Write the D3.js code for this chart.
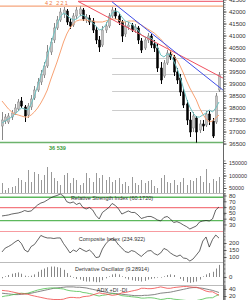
<!DOCTYPE html>
<html>
<head>
<meta charset="utf-8">
<script src="https://cdn.jsdelivr.net/npm/d3@7"></script>
<style>
  body { margin: 0; background: #fff; }
  svg { display: block; font-family: "Liberation Sans", Arial, sans-serif; }
</style>
</head>
<body>
<svg id="chart" width="248" height="300"></svg>
<script>
// ---- data ----
const opens = [37231, 37440, 37398, 37606, 37773, 37940, 38273, 38023, 37690, 38023, 38398, 38731, 39064, 39356, 39731, 40314, 40814, 41314, 41647, 41897,
  42022, 41564, 41439, 41814, 41897, 42063, 41689, 41730, 41605, 41230, 40814, 40605, 41230, 41397, 41814, 42022, 41814, 41564, 41064, 41355,
  41439, 41230, 41314, 40772, 40480, 40814, 40980, 40647, 40480, 39647, 39314, 39856, 40231, 40106, 39481, 39231, 38648, 38148, 37481, 37148,
  37565, 37065, 37315, 37273, 37731, 37440, 37398, 38731]
const highs = [37815, 37731, 37773, 37898, 38148, 38356, 38439, 38106, 38190, 38523, 38898, 39231, 39564, 39898, 40605, 40897, 41522, 41814, 42147, 42188,
  42105, 41730, 41938, 42188, 42221, 42147, 41897, 41855, 41730, 41355, 40980, 41397, 41564, 41938, 42188, 42147, 41938, 41647, 41564, 41564,
  41522, 41480, 41397, 40897, 40939, 41105, 41064, 40814, 40647, 39898, 39981, 40397, 40397, 40190, 39647, 39398, 38814, 38314, 37815, 37815,
  37648, 37481, 37481, 37856, 37856, 37565, 38606, 39481]
const lows = [36648, 37315, 37315, 37481, 37690, 37856, 37981, 37398, 37565, 37898, 38314, 38648, 38939, 39231, 39647, 40190, 40688, 41230, 41564, 41730,
  41439, 41272, 41355, 41689, 41814, 41605, 41522, 41439, 41105, 40647, 40314, 40522, 41105, 41314, 41730, 41689, 41439, 40730, 40939, 41230,
  41147, 41105, 40647, 40272, 40397, 40688, 40480, 40314, 39481, 38981, 39231, 39772, 39981, 39314, 38981, 38481, 37981, 37273, 36773, 36981,
  36539, 36940, 37023, 37190, 37273, 36732, 37315, 38648]
const closes = [37481, 37606, 37648, 37773, 37981, 38231, 38065, 37648, 38065, 38356, 38731, 39064, 39398, 39731, 40314, 40730, 41314, 41647, 41980, 42063,
  41564, 41397, 41814, 42063, 42105, 41689, 41772, 41564, 41230, 40814, 40522, 41230, 41397, 41814, 42063, 41814, 41564, 40980, 41397, 41439,
  41230, 41355, 40814, 40397, 40814, 40980, 40605, 40480, 39647, 39148, 39856, 40272, 40106, 39481, 39148, 38648, 38106, 37481, 36981, 37648,
  36981, 37315, 37231, 37731, 37481, 36815, 38481, 39356]
const maShort = [37356, 37440, 37523, 37606, 37731, 37856, 37981, 37940, 37898, 38148, 38481, 38898, 39314, 39731, 40147, 40605, 41064, 41480, 41772, 41938,
  41855, 41730, 41647, 41689, 41814, 41855, 41772, 41647, 41522, 41397, 41230, 41272, 41439, 41689, 41938, 42022, 41980, 41772, 41605, 41564,
  41480, 41355, 41230, 41022, 40939, 40897, 40897, 40772, 40522, 40190, 40106, 40231, 40190, 39940, 39647, 39273, 38814, 38356, 38023, 37773,
  37606, 37606, 37690, 37773, 37898, 37815, 37981, 38231]
const maLong = [38273, 38106, 37940, 37815, 37731, 37690, 37648, 37606, 37606, 37690, 37815, 37981, 38190, 38439, 38731, 39148, 39523, 39898, 40314, 40730,
  41064, 41314, 41480, 41605, 41647, 41647, 41647, 41605, 41605, 41564, 41564, 41564, 41605, 41647, 41689, 41689, 41647, 41564, 41564, 41605,
  41605, 41605, 41522, 41439, 41355, 41272, 41189, 41105, 40980, 40855, 40688, 40522, 40356, 40147, 39981, 39731, 39439, 39106, 38814, 38564,
  38314, 37981, 37731, 37523, 37398, 37440, 37565, 37690]
const volumes = [70000, 42000, 50000, 54000, 58000, 90000, 82000, 74000, 122000, 74000, 114000, 106000, 82000, 102000, 134000, 114000, 90000, 78000, 62000, 102000,
  110000, 70000, 90000, 82000, 62000, 70000, 110000, 90000, 74000, 110000, 90000, 102000, 82000, 94000, 74000, 82000, 90000, 66000, 74000, 58000,
  94000, 70000, 62000, 82000, 70000, 78000, 82000, 58000, 50000, 90000, 102000, 74000, 70000, 82000, 62000, 74000, 90000, 62000, 82000, 78000,
  90000, 98000, 74000, 126000, 70000, 86000, 78000, 94000]
const rsi = [44.7, 45.5, 46.4, 48, 49, 49.8, 51.5, 54, 52.4, 53.3, 58.4, 63.6, 67, 68.8, 72.2, 75.7, 78.3, 80, 82.6, 79,
  69.3, 67, 68.8, 64.5, 67, 59.3, 56.7, 59.3, 55, 45.5, 39.5, 50.7, 55, 59.3, 66.2, 62.8, 56.7, 48, 50.7, 53.3,
  50.7, 50.7, 46.4, 40.3, 42.1, 43.8, 43.8, 41.2, 37.8, 36, 42.1, 43.8, 39.5, 33.4, 34.8, 32.6, 29.1, 26.2, 22.2, 24.8,
  27.4, 34.3, 36, 36.9, 36, 39.5, 55, 60.172]
const composite = [136, 164, 175, 189, 207, 221, 196, 150, 136, 175, 189, 221, 254, 243, 236, 236, 232, 236, 236, 196,
  164, 129, 150, 139, 164, 150, 139, 150, 129, 96, 100, 157, 193, 218, 232, 218, 186, 164, 139, 132,
  146, 139, 121, 104, 125, 143, 146, 125, 114, 129, 161, 150, 129, 114, 104, 114, 93, 89, 71, 86,
  114, 143, 214, 243, 171, 225, 257, 234.922]
const derivOsc = [-1, 0.5, 1.5, 2.5, 3, 3.5, 2.5, 1, 0.5, 1, 2, 4, 5.5, 6.5, 7.5, 8, 8, 7.5, 7, 5.5,
  3, 1, -0.5, -1.5, -2, -3, -3.5, -3.5, -3.5, -4, -4, -2.5, -1, 0.5, 2, 2.5, 2, 0.5, -1, -2,
  -2.5, -3, -3, -3.5, -3, -2, -1.5, -1, -0.5, -0.5, 0.5, 1.5, 2, 1.5, 0, -1.5, -3, -4, -4.5, -4,
  -3.5, -2, 0.5, 2, 3, 4, 6.5, 9.28914]
const adx = [28, 27, 26, 25, 24, 24, 25, 26, 27, 28, 30, 32, 34, 36, 38, 40, 42, 43, 44, 45,
  46, 46, 46, 45, 45, 44, 43, 41, 39, 37, 35, 33, 31, 29, 28, 27, 26, 25, 24, 23,
  22, 21, 21, 21, 22, 22, 23, 24, 26, 28, 29, 30, 31, 33, 35, 37, 39, 41, 43, 44,
  44, 43, 42, 40, 38, 36, 33, 30]
const plusDI = [18, 20, 21, 23, 25, 27, 28, 27, 28, 31, 34, 37, 39, 41, 42, 43, 43, 42, 41, 40,
  37, 35, 34, 33, 33, 30, 29, 27, 25, 22, 20, 22, 23, 25, 27, 26, 24, 21, 20, 19,
  18, 17, 16, 14, 14, 15, 15, 14, 12, 10, 11, 13, 13, 11, 10, 9, 8, 7, 6, 7,
  7, 9, 11, 14, 15, 15, 20, 24]
const minusDI = [36, 35, 34, 32, 30, 28, 26, 26, 25, 22, 20, 18, 16, 14, 12, 11, 10, 10, 10, 11,
  14, 16, 16, 15, 15, 18, 19, 20, 23, 26, 29, 27, 26, 24, 22, 23, 25, 29, 30, 32,
  34, 36, 38, 42, 42, 41, 41, 42, 44, 46, 44, 42, 42, 44, 45, 46, 47, 47, 46, 45,
  45, 42, 38, 34, 32, 32, 27, 22]

const priceTicks = [36500, 37000, 37500, 38000, 38500, 39000, 39500, 40000, 40500, 41000, 41500, 42000, 42500]
const volumeTicks = [50000, 100000, 150000]
const rsiTicks = [30, 40, 50, 60, 70, 80]
const compositeTicks = [100, 150, 200]
const derivTicks = [0]
const adxTicks = [20, 40]

const periodHigh = 42221
const periodLow = 36539
const fibLevels = [0.236, 0.382, 0.5, 0.618]
const resistance = { from: 23.5, value: 42420 }
const trendRed = [[23.5, 42420], [68.2, 39230]]
const trendBlue = [[34, 42400], [68.2, 38730]]
const rsiLines = [{ v: 77, c: '#5cb85c' }, { v: 59.2, c: '#f47a80' }, { v: 36.5, c: '#5cb85c' }, { v: 17.2, c: '#f47a80' }]

// ---- layout ----
const svg = d3.select('#chart')
const right = 223
const N = closes.length
const x = d3.scaleLinear().domain([0, N - 1]).range([2, 219])

const panels = {
  price: { top: 0, bottom: 145, y: d3.scaleLinear().domain([36440, 42480]).range([145, 0]) },
  volume: { top: 145, bottom: 193, y: d3.scaleLinear().domain([30000, 170000]).range([193, 158]) },
  rsi: { top: 193, bottom: 232, y: d3.scaleLinear().domain([17, 84.3]).range([232, 193]) },
  comp: { top: 232, bottom: 262, y: d3.scaleLinear().domain([64.3, 278.6]).range([262, 232]) },
  deriv: { top: 262, bottom: 285, y: d3.scaleLinear().domain([-6.15, 11.5]).range([285, 262]) },
  adx: { top: 285, bottom: 300, y: d3.scaleLinear().domain([8.6, 51.4]).range([300, 285]) }
}

const defs = svg.append('defs')
Object.entries(panels).forEach(([k, p]) => {
  defs.append('clipPath').attr('id', 'clip-' + k)
    .append('rect').attr('x', 0).attr('y', p.top).attr('width', right).attr('height', p.bottom - p.top)
})

function panelGroup (k) {
  return svg.append('g').attr('clip-path', `url(#clip-${k})`)
}

// separators
;[193, 262, 285].forEach(v => {
  svg.append('line').attr('x1', 0).attr('x2', right).attr('y1', v + 0.5).attr('y2', v + 0.5)
    .attr('stroke', '#bbb').attr('stroke-width', 1)
})

// ---- price panel ----
const yP = panels.price.y
const gP = panelGroup('price')

// fibonacci retracement lines
fibLevels.forEach(f => {
  const v = periodLow + (periodHigh - periodLow) * f
  gP.append('line').attr('x1', x(34)).attr('x2', right)
    .attr('y1', Math.round(yP(v)) + 0.5).attr('y2', Math.round(yP(v)) + 0.5)
    .attr('stroke', '#ccc').attr('stroke-width', 1)
})
gP.append('line').attr('x1', 0).attr('x2', right)
  .attr('y1', yP(periodHigh)).attr('y2', yP(periodHigh))
  .attr('stroke', '#f6a57c').attr('stroke-width', 1.2)
gP.append('line').attr('x1', x(resistance.from)).attr('x2', right)
  .attr('y1', yP(resistance.value)).attr('y2', yP(resistance.value))
  .attr('stroke', '#f07080').attr('stroke-width', 1.2)
gP.append('line').attr('x1', 0).attr('x2', right)
  .attr('y1', yP(periodLow)).attr('y2', yP(periodLow))
  .attr('stroke', '#6db36d').attr('stroke-width', 1.5)

// candles
const candles = gP.append('g').selectAll('g').data(d3.range(N)).join('g')
candles.append('line')
  .attr('x1', i => Math.round(x(i)) + 0.5).attr('x2', i => Math.round(x(i)) + 0.5)
  .attr('y1', i => yP(highs[i])).attr('y2', i => yP(lows[i]))
  .attr('stroke', i => closes[i] >= opens[i] ? '#888' : '#000').attr('stroke-width', 1)
candles.append('rect')
  .attr('x', i => Math.round(x(i)) - 0.5)
  .attr('width', 2)
  .attr('y', i => yP(Math.max(opens[i], closes[i])))
  .attr('height', i => Math.max(1, Math.abs(yP(opens[i]) - yP(closes[i]))))
  .attr('fill', i => closes[i] >= opens[i] ? '#c4c4c4' : '#000')
  .attr('stroke', i => closes[i] >= opens[i] ? '#888' : '#000')
  .attr('stroke-width', 0.5)

const line = (arr, sc) => d3.line().x((d, i) => x(i)).y(d => sc(d))(arr)
gP.append('path').attr('d', line(maLong, yP)).attr('fill', 'none').attr('stroke', '#f8a274').attr('stroke-width', 1)
gP.append('path').attr('d', line(maShort, yP)).attr('fill', 'none').attr('stroke', '#6ec3c3').attr('stroke-width', 1)

const tl = d3.line().x(d => x(d[0])).y(d => yP(d[1]))
gP.append('path').attr('d', tl(trendRed)).attr('fill', 'none').attr('stroke', '#f05060').attr('stroke-width', 1)
gP.append('path').attr('d', tl(trendBlue)).attr('fill', 'none').attr('stroke', '#3f4ee8').attr('stroke-width', 1)

svg.append('text').attr('x', 45).attr('y', 4.5).attr('font-size', 5.5).attr('fill', '#ef7a3e')
  .attr('letter-spacing', 1.2).text('42 221')
svg.append('text').attr('x', 49).attr('y', 150).attr('font-size', 5.5).attr('font-weight', 'bold').attr('fill', '#3c9c3c')
  .text('36 539')

// ---- volume ----
const yV = panels.volume.y
panelGroup('volume').selectAll('line').data(volumes).join('line')
  .attr('x1', (d, i) => Math.round(x(i)) + 0.5).attr('x2', (d, i) => Math.round(x(i)) + 0.5)
  .attr('y1', 193).attr('y2', d => yV(d))
  .attr('stroke', '#999').attr('stroke-width', 1)

// ---- RSI ----
const yR = panels.rsi.y
const gR = panelGroup('rsi')
rsiLines.forEach(l => {
  gR.append('line').attr('x1', 0).attr('x2', right).attr('y1', yR(l.v)).attr('y2', yR(l.v))
    .attr('stroke', l.c).attr('stroke-width', 1.3)
})
gR.append('path').attr('d', line(rsi, yR)).attr('fill', 'none').attr('stroke', '#222').attr('stroke-width', 0.7)

// ---- composite ----
const yC = panels.comp.y
panelGroup('comp').append('path').attr('d', line(composite, yC)).attr('fill', 'none').attr('stroke', '#222').attr('stroke-width', 0.7)

// ---- derivative oscillator ----
const yD = panels.deriv.y
panelGroup('deriv').selectAll('line').data(derivOsc).join('line')
  .attr('x1', (d, i) => Math.round(x(i)) + 0.5).attr('x2', (d, i) => Math.round(x(i)) + 0.5)
  .attr('y1', yD(0)).attr('y2', d => yD(d))
  .attr('stroke', '#888').attr('stroke-width', 1)

// ---- ADX ----
const yA = panels.adx.y
const gA = panelGroup('adx')
;[[adx, '#666'], [plusDI, '#4fc04f'], [minusDI, '#f04848']].forEach(([arr, c]) => {
  gA.append('path').attr('d', line(arr, yA)).attr('fill', 'none').attr('stroke', c).attr('stroke-width', 0.8)
})

// ---- titles ----
const titles = [
  ['Relative Strength Index (60.1720)', 200],
  ['Composite Index (234.922)', 241],
  ['Derivative Oscillator (9.28914)', 271],
  ['ADX +DI -DI', 291.5]
]
svg.append('g').selectAll('text').data(titles).join('text')
  .attr('x', 112).attr('y', d => d[1]).attr('text-anchor', 'middle')
  .attr('font-size', 5.5).attr('fill', '#333').text(d => d[0])

// ---- right axes ----
svg.append('line').attr('x1', right + 0.5).attr('x2', right + 0.5).attr('y1', 0).attr('y2', 300)
  .attr('stroke', '#666').attr('stroke-width', 1)

function drawAxis (p, ticks, minorStep, fmt, size) {
  const [d0, d1] = p.y.domain()
  const minor = d3.range(Math.ceil(d0 / minorStep) * minorStep, d1, minorStep)
  svg.append('g').attr('transform', `translate(${right + 0.5},0)`)
    .call(d3.axisRight(p.y).tickValues(minor).tickSize(2).tickFormat(''))
    .call(g => g.select('.domain').remove())
    .selectAll('line').attr('stroke', '#777')
  const g = svg.append('g').attr('transform', `translate(${right + 0.5},0)`)
    .call(d3.axisRight(p.y).tickValues(ticks).tickSize(3).tickPadding(2.5).tickFormat(fmt))
    .call(g => g.select('.domain').remove())
  g.selectAll('line').attr('stroke', '#555')
  g.selectAll('text').attr('font-size', size).attr('fill', '#333').attr('font-family', '"Liberation Sans", Arial, sans-serif')
}
const fmt = d3.format('d')
drawAxis(panels.price, priceTicks, 100, fmt, 6)
drawAxis(panels.volume, volumeTicks, 10000, fmt, 5.4)
drawAxis(panels.rsi, rsiTicks, 2, fmt, 6)
drawAxis(panels.comp, compositeTicks, 10, fmt, 6)
drawAxis(panels.deriv, derivTicks, 1, fmt, 6)
drawAxis(panels.adx, adxTicks, 2, fmt, 6)
</script>
</body>
</html>
